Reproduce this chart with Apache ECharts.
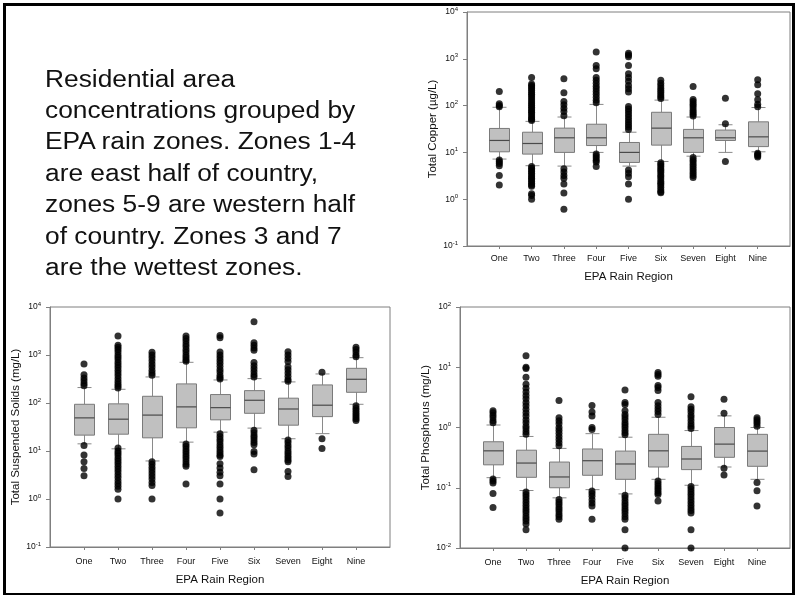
<!DOCTYPE html>
<html>
<head>
<meta charset="utf-8">
<script src="https://cdn.jsdelivr.net/npm/echarts@6/dist/echarts.min.js"></script>
<style>
  html, body { margin: 0; padding: 0; background: #fff; }
  #graficos { position: absolute; left: 0; top: 0; width: 797px; height: 597px; }
  #marco { position: absolute; left: 3px; top: 3px; width: 786px; height: 587px;
           border: 3px solid #000; border-bottom-width: 2px; pointer-events: none; }
  #texto { position: absolute; left: 45px; top: 63.5px; font-family: "Liberation Sans", Arial, sans-serif;
           font-size: 23.5px; line-height: 31.4px; color: #111; white-space: nowrap;
           transform: scaleX(1.12); transform-origin: 0 0; }
</style>
</head>
<body>
<div id="graficos"></div>
<div id="texto">Residential area<br>concentrations grouped by<br>EPA rain zones. Zones 1-4<br>are east half of country,<br>zones 5-9 are western half<br>of country. Zones 3 and 7<br>are the wettest zones.</div>
<div id="marco"></div>
<script>
// Regiones de lluvia EPA
const regions = ["One", "Two", "Three", "Four", "Five", "Six", "Seven", "Eight", "Nine"];

// [lower whisker, Q1, median, Q3, upper whisker]
const copperBoxes = [
  [7.2, 10.3, 18, 32.5, 92],
  [5.2, 9.2, 15.5, 27, 46],
  [5.1, 10, 20.5, 33, 57],
  [10, 14, 20.5, 40, 106],
  [5.1, 6.1, 10, 16.3, 27],
  [6.4, 14.3, 33, 72, 131],
  [8.3, 10, 20.5, 31, 57],
  [10, 18, 20.5, 30, 39],
  [10.3, 13.3, 21.5, 45, 91],
];
const copperOutliers = [
  [200, 110, 100, 95, 6.9, 6.3, 5.8, 5.2, 3.2, 2.0],
  [400, 290, 270, 250, 230, 210, 190, 175, 160, 145, 132, 120, 110, 100, 92, 85, 78, 72, 66, 60, 55, 51, 48,
   5.0, 4.6, 4.2, 3.9, 3.6, 3.3, 3.0, 2.8, 2.6, 2.4, 2.2, 2.0, 1.9, 1.3, 1.2, 1.0],
  [373, 188, 122, 104, 88, 75, 61, 4.5, 3.8, 3.2, 2.8, 2.1, 1.35, 0.61],
  [1390, 720, 610, 400, 350, 300, 260, 230, 200, 175, 150, 130, 115, 9.3, 8.4, 7.6, 6.8, 6.2, 5.0],
  [1320, 1200, 1100, 720, 480, 400, 330, 270, 230, 195, 96, 85, 75, 65, 57, 50, 44, 39, 35, 31,
   4.2, 3.6, 3.0, 2.1, 1.0],
  [350, 300, 265, 235, 210, 190, 170, 155, 142,
   6.0, 5.5, 5.0, 4.5, 4.1, 3.7, 3.3, 3.0, 2.7, 2.4, 2.2, 2.0, 1.8, 1.6, 1.45, 1.38],
  [256, 135, 122, 110, 100, 90, 80, 72, 65, 60, 7.8, 7.0, 6.3, 5.6, 5.0, 4.5, 4.0, 3.6, 3.2, 2.9],
  [144, 41, 6.4],
  [356, 278, 179, 133, 107, 94, 9.6, 9.0, 8.5, 8.0],
];

const tssBoxes = [
  [14.1, 21.4, 49, 94, 210],
  [11.1, 22.4, 46, 96, 193],
  [6.2, 18.8, 56, 138, 349],
  [15.3, 30.4, 83, 250, 704],
  [24.7, 44.6, 80, 150, 302],
  [30, 61, 114, 181, 322],
  [18, 34.5, 75, 126, 275],
  [23, 52, 90, 238, 403],
  [94, 167, 312, 528, 880],
];
const tssOutliers = [
  [650, 390, 330, 290, 255, 230, 13, 8.3, 6.0, 4.3, 3.05],
  [2480, 1600, 1450, 1300, 1150, 1000, 900, 800, 700, 620, 550, 480, 420, 370, 320, 280, 250, 225, 205,
   11.5, 10, 9, 8, 7, 6.2, 5.5, 4.8, 4.2, 3.7, 3.2, 2.8, 2.4, 2.1, 1.85, 1.6, 1.0],
  [1140, 1000, 880, 760, 650, 560, 480, 420, 380, 6.0, 5.3, 4.6, 4.0, 3.5, 3.0, 2.6, 2.2, 1.9, 1.0],
  [2480, 2200, 1950, 1700, 1500, 1300, 1150, 1000, 900, 800, 740,
   14, 12.5, 11, 9.8, 8.7, 7.7, 6.8, 6.0, 5.3, 4.8, 2.05],
  [2550, 2300, 1150, 1000, 880, 770, 670, 580, 500, 440, 380, 340, 315,
   23, 20, 17.5, 15.5, 13.5, 12, 10.5, 9.3, 8.3, 7.7, 5.4, 4.4, 3.6, 3.05, 2.05, 1.0, 0.51],
  [4930, 1800, 1600, 1400, 1250, 700, 600, 520, 450, 390, 350, 27, 24, 21, 19, 17, 15, 13.5, 9.8, 8.7, 4.06],
  [1170, 1000, 860, 730, 570, 490, 420, 360, 310, 285, 17, 15, 13, 11.5, 10, 9, 8, 7.2, 6.5, 6.0, 3.75, 2.95],
  [436, 18, 11.3],
  [1450, 1300, 1150, 1000, 920, 88, 78, 70, 63, 57, 52, 47, 43],
];

const tpBoxes = [
  [0.147, 0.24, 0.41, 0.58, 1.1],
  [0.09, 0.149, 0.257, 0.42, 0.71],
  [0.068, 0.1, 0.151, 0.267, 0.45],
  [0.093, 0.161, 0.281, 0.44, 0.79],
  [0.079, 0.138, 0.248, 0.406, 0.69],
  [0.138, 0.221, 0.41, 0.77, 1.48],
  [0.11, 0.2, 0.3, 0.485, 0.89],
  [0.221, 0.32, 0.53, 1.0, 1.56],
  [0.138, 0.227, 0.406, 0.77, 1.0],
];
const tpOutliers = [
  [1.9, 1.75, 1.6, 1.45, 1.3, 1.2, 0.14, 0.13, 0.12, 0.08, 0.047],
  [15.5, 10, 9.5, 6.8, 5.2, 4.5, 3.9, 3.4, 3.0, 2.6, 2.3, 2.0, 1.75, 1.55, 1.35, 1.2, 1.05, 0.95, 0.85, 0.77,
   0.085, 0.077, 0.07, 0.063, 0.057, 0.051, 0.046, 0.042, 0.038, 0.034, 0.031, 0.028, 0.025, 0.02],
  [2.8, 1.45, 1.3, 1.15, 1.0, 0.9, 0.8, 0.71, 0.63, 0.56, 0.5,
   0.064, 0.058, 0.053, 0.048, 0.044, 0.04, 0.036, 0.033, 0.03],
  [2.31, 1.8, 1.55, 1.0, 0.93, 0.088, 0.08, 0.072, 0.063, 0.056, 0.05, 0.03],
  [4.2, 2.6, 2.4, 1.9, 1.65, 1.5, 1.35, 1.2, 1.1, 1.0, 0.9, 0.82, 0.76,
   0.075, 0.068, 0.061, 0.055, 0.05, 0.045, 0.041, 0.037, 0.033, 0.03, 0.02, 0.01],
  [8.2, 7.6, 7.1, 5.0, 4.6, 4.1, 2.6, 2.3, 2.05, 1.85, 1.65, 0.13, 0.118, 0.107, 0.098, 0.09, 0.083, 0.077, 0.06],
  [3.25, 2.2, 2.0, 1.8, 1.6, 1.45, 1.3, 1.15, 1.05, 0.96,
   0.105, 0.095, 0.086, 0.078, 0.07, 0.063, 0.057, 0.051, 0.046, 0.042, 0.038, 0.02, 0.01],
  [2.94, 1.73, 0.21, 0.163],
  [1.45, 1.35, 1.25, 1.15, 1.05, 0.122, 0.089, 0.05],
];

const fuente = '"Liberation Sans", Arial, sans-serif';

function boxData(boxes) {
  return boxes.map((b, i) => [i + 1].concat(b));
}

function outlierData(lists) {
  const pts = [];
  lists.forEach((vals, i) => vals.forEach((v) => pts.push([i + 1, v])));
  return pts;
}

// box + whiskers drawn with the axis scales
function renderBox(params, api) {
  const x = api.value(0);
  const pLow = api.coord([x, api.value(1)]);
  const pQ1 = api.coord([x, api.value(2)]);
  const pMed = api.coord([x, api.value(3)]);
  const pQ3 = api.coord([x, api.value(4)]);
  const pHigh = api.coord([x, api.value(5)]);
  const cx = Math.round(pMed[0]) + 0.5;
  const half = 10;
  const cap = 7;
  const whisker = { stroke: "#8a8a8a", lineWidth: 1 };
  return {
    type: "group",
    children: [
      { type: "line", shape: { x1: cx, y1: pHigh[1], x2: cx, y2: pQ3[1] }, style: whisker },
      { type: "line", shape: { x1: cx, y1: pQ1[1], x2: cx, y2: pLow[1] }, style: whisker },
      { type: "line", shape: { x1: cx - cap, y1: pHigh[1], x2: cx + cap, y2: pHigh[1] }, style: whisker },
      { type: "line", shape: { x1: cx - cap, y1: pLow[1], x2: cx + cap, y2: pLow[1] }, style: whisker },
      {
        type: "rect",
        shape: { x: cx - half, y: pQ3[1], width: half * 2, height: pQ1[1] - pQ3[1] },
        style: { fill: "#c0c0c0", stroke: "#7a7a7a", lineWidth: 1 },
      },
      {
        type: "line",
        shape: { x1: cx - half, y1: pMed[1], x2: cx + half, y2: pMed[1] },
        style: { stroke: "#4a4a4a", lineWidth: 1.2 },
      },
    ],
  };
}

function xAxisFor(gridIndex, margin, nameGap) {
  return {
    gridIndex: gridIndex,
    type: "value",
    min: 0,
    max: 10,
    interval: 1,
    name: "EPA Rain Region",
    nameLocation: "middle",
    nameGap: nameGap,
    nameTextStyle: { fontFamily: fuente, fontSize: 11.5, color: "#111" },
    axisLine: { show: true, lineStyle: { color: "#7f7f7f", width: 1 } },
    axisTick: { show: true, inside: false, length: 3, lineStyle: { color: "#7f7f7f" } },
    splitLine: { show: false },
    axisLabel: {
      margin: margin,
      fontFamily: fuente,
      fontSize: 9,
      color: "#111",
      showMinLabel: false,
      showMaxLabel: false,
      formatter: (v) => regions[v - 1] || "",
    },
  };
}

function yAxisFor(gridIndex, min, max, name, nameGap) {
  return {
    gridIndex: gridIndex,
    type: "log",
    logBase: 10,
    min: min,
    max: max,
    name: name,
    nameLocation: "middle",
    nameGap: nameGap,
    nameTextStyle: { fontFamily: fuente, fontSize: 11.5, color: "#111" },
    axisLine: { show: true, lineStyle: { color: "#7f7f7f", width: 1 } },
    axisTick: { show: true, inside: false, length: 4, lineStyle: { color: "#7f7f7f" } },
    minorTick: { show: false },
    splitLine: { show: false },
    axisLabel: {
      margin: 9,
      formatter: (v) => "{b|10}{s|" + Math.round(Math.log10(v)) + "}",
      rich: {
        b: { fontFamily: fuente, fontSize: 8.5, color: "#111", lineHeight: 12 },
        s: { fontFamily: fuente, fontSize: 6, color: "#111", verticalAlign: "top", lineHeight: 12 },
      },
    },
  };
}

function seriesFor(index, boxes, outliers) {
  return [
    {
      type: "custom",
      xAxisIndex: index,
      yAxisIndex: index,
      renderItem: renderBox,
      encode: { x: 0, y: [1, 2, 3, 4, 5] },
      data: boxData(boxes),
      z: 2,
    },
    {
      type: "scatter",
      xAxisIndex: index,
      yAxisIndex: index,
      symbol: "circle",
      symbolSize: 7,
      itemStyle: { color: "#000" },
      data: outlierData(outliers),
      z: 3,
    },
  ];
}

const contenedor = document.getElementById("graficos");
const myChart = echarts.init(contenedor, null, { renderer: "canvas" });

const marcoGrid = { show: true, borderColor: "#7f7f7f", borderWidth: 1, backgroundColor: "transparent", containLabel: false };

var option = {
  animation: false,
  grid: [
    Object.assign({ left: 467, top: 12, width: 323, height: 234 }, marcoGrid),
    Object.assign({ left: 50, top: 307, width: 340, height: 240 }, marcoGrid),
    Object.assign({ left: 460, top: 307, width: 330, height: 241 }, marcoGrid),
  ],
  xAxis: [xAxisFor(0, 8, 25), xAxisFor(1, 10, 27), xAxisFor(2, 10, 27)],
  yAxis: [
    yAxisFor(0, 0.1, 10000, "Total Copper (µg/L)", 28),
    yAxisFor(1, 0.1, 10000, "Total Suspended Solids (mg/L)", 23),
    yAxisFor(2, 0.01, 100, "Total Phosphorus (mg/L)", 23),
  ],
  series: [].concat(
    seriesFor(0, copperBoxes, copperOutliers),
    seriesFor(1, tssBoxes, tssOutliers),
    seriesFor(2, tpBoxes, tpOutliers)
  ),
};

myChart.setOption(option);
</script>
</body>
</html>
